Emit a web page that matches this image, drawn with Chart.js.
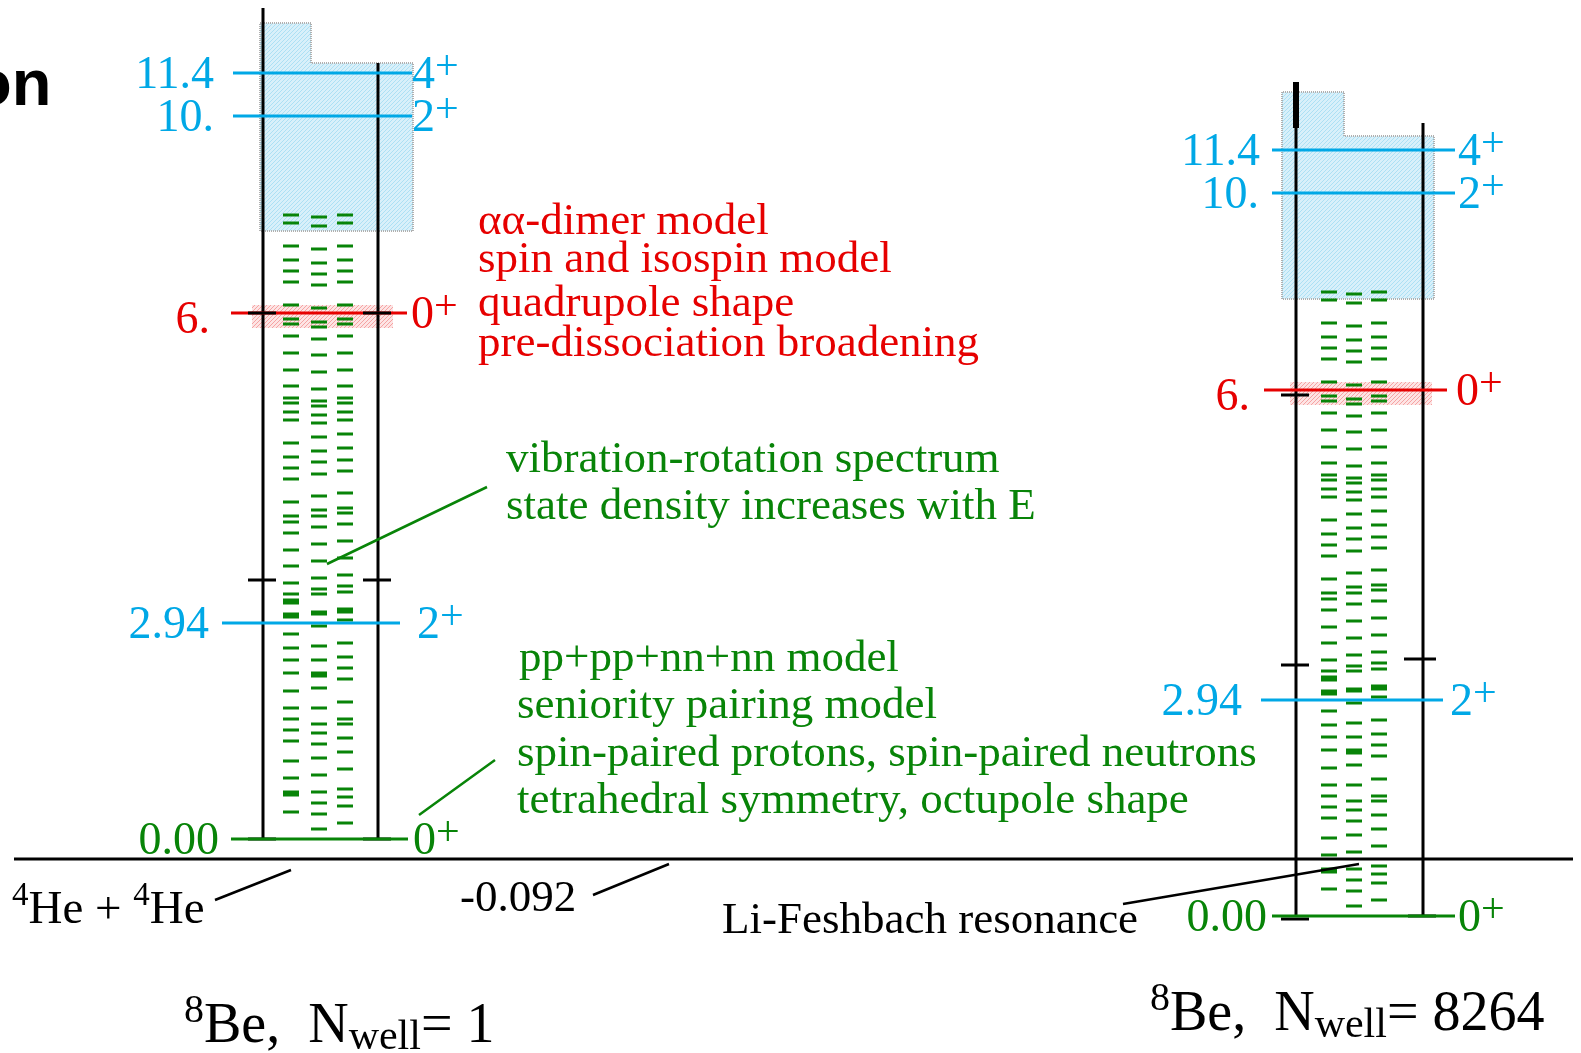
<!DOCTYPE html>
<html>
<head>
<meta charset="utf-8">
<script src="https://cdn.jsdelivr.net/npm/chart.js@4.4.1/dist/chart.umd.min.js"></script>
<style>
html, body { margin: 0; padding: 0; background: #fff; overflow: hidden; }
#chart { display: block; }
</style>
</head>
<body>
<canvas id="chart" width="1581" height="1053"></canvas>
<script>
// 8Be level scheme; drawn heights are schematic (not to scale in energy)
const levelEnergy = ['0.00', '2.94', '6.', '10.', '11.4'];
const levelSpin = ['0', '2', '0', '2', '4'];
const levelHeight = [0, 216, 526, 723, 766];
const levelKind = ['green', 'blue', 'red', 'blue', 'blue'];

// vibration-rotation states, three columns of dashes (schematic heights)
const dashCol1 = [624, 616, 593, 579, 568, 557, 534, 520, 515, 503, 486, 469, 453, 441, 436, 427, 419,
  396, 382, 371, 360, 337, 323, 317, 306, 289, 273, 256, 245, 239, 236, 225, 222, 205, 191, 179, 166,
  148, 131, 120, 109, 98, 78, 61, 47, 44, 27];
const dashCol2 = [622, 613, 590, 576, 565, 554, 531, 517, 512, 500, 484, 467, 450, 438, 433, 424, 416,
  402, 388, 377, 365, 343, 329, 323, 312, 295, 278, 261, 250, 245, 227, 225, 213, 193, 179, 166, 163,
  151, 131, 115, 106, 95, 81, 64, 47, 36, 25, 10];
const dashCol3 = [624, 616, 593, 579, 568, 557, 534, 520, 515, 503, 486, 469, 453, 441, 436, 427, 419,
  405, 391, 379, 368, 346, 331, 326, 315, 298, 281, 264, 253, 247, 230, 227, 219, 196, 182, 171, 160,
  137, 120, 115, 101, 87, 70, 50, 42, 33, 16];

// barrier marks on the well walls (left wall, right wall)
const barrierN1 = [259, 259];
const barrierN8264 = [251, 257];
const nwellValues = ['1', '8264'];

const colors = {
  blue: '#00a8e6',
  red: '#e60000',
  green: '#088408',
  black: '#000000'
};
const serif = '"Liberation Serif", "Times New Roman", serif';

// layout of the two diagrams
const diagrams = [
  {
    x0: 263, x1: 378, shift: 0, top0: 831, top1: 776, thick: null,
    cols: [291, 319, 345], barrier: barrierN1, barrierX: [[-15, 13], [-15, 13]],
    lineStart: [231, 222, 231, 233, 233], lineEnd: [408, 400, 407, 412, 412],
    energyX: [219, 209, 210, 214, 214], spinX: [413, 417, 411, 412, 412],
    hatch: { x0: 260, x1: 413, notchX: 311, bottom: 608, top: 776, notchTop: 816 },
    redHatch: [252, 393], brokenTicks: [[0, 0], [1, 0]], groundTicks: [[0, 0], [1, 0]],
    nwell: nwellValues[0], titleX: 184, titleY: 1042
  },
  {
    x0: 1296, x1: 1423, shift: -77, top0: 834, top1: 793, thick: [788, 834],
    cols: [1329, 1354, 1379], barrier: barrierN8264, barrierX: [[-15, 13], [-19, 13]],
    lineStart: [1272, 1261, 1264, 1272, 1272], lineEnd: [1455, 1443, 1447, 1455, 1455],
    energyX: [1267, 1242, 1250, 1259, 1260], spinX: [1458, 1450, 1456, 1458, 1458],
    hatch: { x0: 1282, x1: 1434, notchX: 1344, bottom: 617, top: 780, notchTop: 824 },
    redHatch: [1290, 1432], brokenTicks: [[0, -5]], groundTicks: [[0, -3], [1, 0]],
    nwell: nwellValues[1], titleX: 1150, titleY: 1030
  }
];

// segments -> point list with gaps
function segs(list) {
  const pts = [];
  list.forEach(s => {
    pts.push({ x: s[0], y: s[1] }, { x: s[2], y: s[3] }, { x: s[2], y: null });
  });
  return pts;
}

function lineSet(list, color, width, order) {
  return {
    data: segs(list), showLine: true, borderColor: color, borderWidth: width,
    pointRadius: 0, spanGaps: false, order: order, tension: 0
  };
}

const walls = [], thick = [], barrierTicks = [], groundTicks = [], brokenTicks = [], dashes = [];
const levelSegs = { green: [], blue: [], red: [] };

diagrams.forEach(d => {
  const s = d.shift;
  walls.push([d.x0, s, d.x0, d.top0 + s], [d.x1, s, d.x1, d.top1 + s]);
  if (d.thick) thick.push([d.x0, d.thick[0] + s, d.x0, d.thick[1] + s]);
  [d.x0, d.x1].forEach((wx, i) => {
    barrierTicks.push([wx + d.barrierX[i][0], d.barrier[i] + s, wx + d.barrierX[i][1], d.barrier[i] + s]);
  });
  d.groundTicks.forEach(t => {
    const wx = t[0] === 0 ? d.x0 : d.x1;
    groundTicks.push([wx - 15, levelHeight[0] + s + t[1], wx + 13, levelHeight[0] + s + t[1]]);
  });
  d.brokenTicks.forEach(t => {
    const wx = t[0] === 0 ? d.x0 : d.x1;
    brokenTicks.push([wx - 15, levelHeight[2] + s + t[1], wx + 13, levelHeight[2] + s + t[1]]);
  });
  [dashCol1, dashCol2, dashCol3].forEach((col, k) => {
    col.forEach(h => dashes.push([d.cols[k] - 8, h + s, d.cols[k] + 8, h + s]));
  });
  levelHeight.forEach((h, i) => {
    levelSegs[levelKind[i]].push([d.lineStart[i], h + s, d.lineEnd[i], h + s]);
  });
});

const baseline = [[14, -20, 1573, -20]];
const greenLeaders = [[487, 352, 327, 275], [495, 79, 419, 24]];
const blackLeaders = [[215, -61, 291, -31], [593, -56, 669, -25], [1123, -65, 1359, -25]];

function hatchPattern(ctx, bg, fg) {
  const c = document.createElement('canvas');
  c.width = 4; c.height = 4;
  const g = c.getContext('2d');
  g.fillStyle = bg;
  g.fillRect(0, 0, 4, 4);
  g.strokeStyle = fg;
  g.lineWidth = 1;
  g.beginPath();
  g.moveTo(0, 4); g.lineTo(4, 0);
  g.moveTo(-1, 1); g.lineTo(1, -1);
  g.moveTo(3, 5); g.lineTo(5, 3);
  g.stroke();
  return ctx.createPattern(c, 'repeat');
}

function rich(ctx, x, y, parts, color) {
  ctx.fillStyle = color;
  ctx.textAlign = 'left';
  ctx.textBaseline = 'alphabetic';
  parts.forEach(p => {
    ctx.font = p[1] + 'px ' + serif;
    ctx.fillText(p[0], x, y + (p[2] || 0));
    x += ctx.measureText(p[0]).width;
  });
}

const backgroundPlugin = {
  id: 'hatches',
  beforeDatasetsDraw(chart) {
    const ctx = chart.ctx;
    const sx = chart.scales.x, sy = chart.scales.y;
    const blue = hatchPattern(ctx, '#d8f0fa', '#ace0f4');
    const red = hatchPattern(ctx, '#fde4e4', '#f5a3a3');
    diagrams.forEach(d => {
      const s = d.shift, h = d.hatch;
      const X = v => sx.getPixelForValue(v);
      const Y = v => sy.getPixelForValue(v + s);
      ctx.save();
      ctx.beginPath();
      ctx.moveTo(X(h.x0), Y(h.bottom));
      ctx.lineTo(X(h.x0), Y(h.notchTop));
      ctx.lineTo(X(h.notchX), Y(h.notchTop));
      ctx.lineTo(X(h.notchX), Y(h.top));
      ctx.lineTo(X(h.x1), Y(h.top));
      ctx.lineTo(X(h.x1), Y(h.bottom));
      ctx.closePath();
      ctx.fillStyle = blue;
      ctx.fill();
      ctx.setLineDash([1, 1]);
      ctx.strokeStyle = '#b0b0b0';
      ctx.lineWidth = 2;
      ctx.stroke();
      ctx.setLineDash([]);
      ctx.fillStyle = red;
      const top = Y(levelHeight[2] + 8), bot = Y(levelHeight[2] - 15);
      ctx.fillRect(X(d.redHatch[0]), top, X(d.redHatch[1]) - X(d.redHatch[0]), bot - top);
      ctx.restore();
    });
  },
  afterDatasetsDraw(chart) {
    const ctx = chart.ctx;
    const sy = chart.scales.y;
    ctx.save();
    // cut-off title fragment
    ctx.fillStyle = '#000';
    ctx.font = 'bold 65px "Liberation Sans", Arial, sans-serif';
    ctx.textBaseline = 'alphabetic';
    ctx.textAlign = 'left';
    ctx.fillText('on', -28, 105);

    diagrams.forEach(d => {
      levelHeight.forEach((h, i) => {
        const py = sy.getPixelForValue(h + d.shift);
        const col = colors[levelKind[i]];
        ctx.font = '46px ' + serif;
        ctx.fillStyle = col;
        ctx.textAlign = 'right';
        ctx.fillText(levelEnergy[i], d.energyX[i], py + (levelKind[i] === 'red' ? 20 : 15));
        rich(ctx, d.spinX[i], py + 15, [[levelSpin[i], 46], ['+', 42, -9]], col);
      });
      rich(ctx, d.titleX, d.titleY, [['8', 40, -20], ['Be,  ', 56], ['N', 56], ['well', 42, 7], ['= ' + d.nwell, 56]], '#000');
    });

    const red = ['\u03b1\u03b1-dimer model', 'spin and isospin model', 'quadrupole shape', 'pre-dissociation broadening'];
    const redY = [234, 272, 316, 356];
    red.forEach((t, i) => rich(ctx, 478, redY[i], [[t, 45]], colors.red));

    const g1 = ['vibration-rotation spectrum', 'state density increases with E'];
    const g1Y = [472, 519];
    g1.forEach((t, i) => rich(ctx, 506, g1Y[i], [[t, 45]], colors.green));

    const g2 = ['pp+pp+nn+nn model', 'seniority pairing model', 'spin-paired protons, spin-paired neutrons', 'tetrahedral symmetry, octupole shape'];
    const g2Y = [671, 718, 766, 813];
    const g2X = [519, 517, 517, 517];
    g2.forEach((t, i) => rich(ctx, g2X[i], g2Y[i], [[t, 45]], colors.green));

    rich(ctx, 12, 923, [['4', 33, -18], ['He + ', 47], ['4', 33, -18], ['He', 47]], '#000');
    rich(ctx, 460, 911, [['-0.092', 45]], '#000');
    rich(ctx, 722, 933, [['Li-Feshbach resonance', 45]], '#000');
    ctx.restore();
  }
};

new Chart(document.getElementById('chart'), {
  type: 'scatter',
  data: {
    datasets: [
      lineSet(greenLeaders, colors.green, 2.5, 1),
      lineSet(blackLeaders, colors.black, 2.5, 1),
      lineSet(brokenTicks, colors.black, 3, 2),
      lineSet(levelSegs.red, colors.red, 3, 3),
      lineSet(levelSegs.blue, colors.blue, 3, 3),
      lineSet(levelSegs.green, colors.green, 3, 3),
      lineSet(groundTicks, colors.black, 3, 4),
      lineSet(barrierTicks, colors.black, 3, 4),
      lineSet(thick, colors.black, 6, 4),
      lineSet(dashes, colors.green, 3, 6),
      lineSet(walls, colors.black, 3, 8),
      lineSet(baseline, colors.black, 3, 8)
    ]
  },
  options: {
    responsive: false,
    animation: false,
    devicePixelRatio: 1,
    layout: { padding: 0, autoPadding: false },
    plugins: { legend: { display: false }, tooltip: { enabled: false } },
    events: [],
    scales: {
      x: { type: 'linear', min: 0, max: 1581, display: false },
      y: { type: 'linear', min: -214, max: 839, display: false }
    }
  },
  plugins: [backgroundPlugin]
});
</script>
</body>
</html>
